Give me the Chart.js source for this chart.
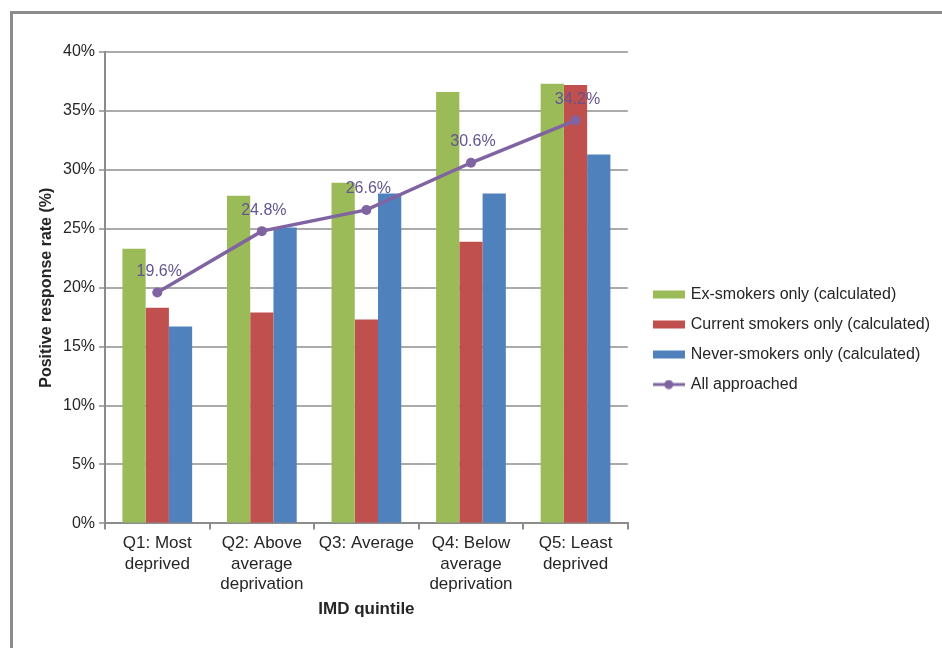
<!DOCTYPE html>
<html>
<head>
<meta charset="utf-8">
<script src="https://cdn.jsdelivr.net/npm/chart.js@4/dist/chart.umd.min.js"></script>
<style>
  html, body { margin: 0; padding: 0; background: #fff; }
  #wrap { position: relative; width: 942px; height: 648px; overflow: hidden; }
  #frame { position: absolute; left: 10px; top: 11px; width: 960px; height: 700px;
           border-left: 3px solid #8c8c8c; border-top: 3px solid #8c8c8c; pointer-events: none; }
  canvas { position: absolute; left: 0; top: 0; }
</style>
</head>
<body>
<div id="wrap">
  <canvas id="c" width="942" height="648"></canvas>
  <div id="frame"></div>
</div>
<script>
// IMD quintiles and positive response rates (%)
const quintiles = [
  ['Q1: Most', 'deprived'],
  ['Q2: Above', 'average', 'deprivation'],
  ['Q3: Average'],
  ['Q4: Below', 'average', 'deprivation'],
  ['Q5: Least', 'deprived']
];
const exSmokers      = [23.3, 27.8, 28.9, 36.6, 37.3];
const currentSmokers = [18.3, 17.9, 17.3, 23.9, 37.2];
const neverSmokers   = [16.7, 25.1, 28.0, 28.0, 31.3];
const allApproached  = [19.6, 24.8, 26.6, 30.6, 34.2];
const yTicks = [0, 5, 10, 15, 20, 25, 30, 35, 40];

const GREEN = '#9BBB59', RED = '#C0504D', BLUE = '#4F81BD', PURPLE = '#8064A2';
const FONT = "'Liberation Sans', Arial, Helvetica, sans-serif";

// legend swatches: flat bars for the columns, line with a dot for the series
function swatch(color, isLine) {
  const cv = document.createElement('canvas');
  cv.width = 32; cv.height = 10;
  const g = cv.getContext('2d');
  if (isLine) {
    g.strokeStyle = color; g.lineWidth = 3;
    g.beginPath(); g.moveTo(0, 5); g.lineTo(32, 5); g.stroke();
    g.fillStyle = color; g.beginPath(); g.arc(16, 5, 4.5, 0, Math.PI * 2); g.fill();
  } else {
    g.fillStyle = color; g.fillRect(0, 1, 32, 8);
  }
  return cv;
}
const swatches = [swatch(GREEN), swatch(RED), swatch(BLUE), swatch(PURPLE, true)];

// let the right-hand legend be as wide as its longest entry
const wideLegend = {
  id: 'wideLegend',
  beforeLayout(chart) {
    const lg = chart.legend;
    if (lg && !lg.__wide) {
      const update = lg.update;
      lg.update = function (w, h, m) { return update.call(this, Math.max(w, 320), h, m); };
      lg.__wide = true;
    }
  }
};

// value labels above the line points
const pointLabels = {
  id: 'pointLabels',
  afterDatasetsDraw(chart) {
    const meta = chart.getDatasetMeta(3);
    const ctx = chart.ctx;
    ctx.save();
    ctx.font = '16px ' + FONT;
    ctx.fillStyle = '#64548f';
    ctx.textAlign = 'center';
    ctx.textBaseline = 'middle';
    meta.data.forEach((pt, i) => {
      ctx.fillText(allApproached[i].toFixed(1) + '%', pt.x + 2, pt.y - 21);
    });
    ctx.restore();
  }
};

new Chart(document.getElementById('c'), {
  type: 'bar',
  data: {
    labels: quintiles,
    datasets: [
      { label: 'Ex-smokers only (calculated)', data: exSmokers, backgroundColor: GREEN, order: 1 },
      { label: 'Current smokers only (calculated)', data: currentSmokers, backgroundColor: RED, order: 1 },
      { label: 'Never-smokers only (calculated)', data: neverSmokers, backgroundColor: BLUE, order: 1 },
      { type: 'line', label: 'All approached', data: allApproached, borderColor: PURPLE,
        backgroundColor: PURPLE, borderWidth: 3.5, pointRadius: 5, pointBackgroundColor: PURPLE,
        pointBorderWidth: 0, tension: 0, order: 0 }
    ]
  },
  options: {
    responsive: false,
    animation: false,
    events: [],
    layout: { padding: { top: 52, right: 2, bottom: 21, left: 0 } },
    datasets: { bar: { categoryPercentage: 0.667, barPercentage: 1.0 } },
    scales: {
      x: {
        grid: { offset: true, drawOnChartArea: false, drawTicks: true, tickLength: 6, color: '#8c8c8c', lineWidth: 2 },
        border: { display: true, color: '#8c8c8c', width: 2 },
        ticks: { font: { family: FONT, size: 17 }, color: '#262626', padding: 4, maxRotation: 0, autoSkip: false },
        title: { display: true, text: 'IMD quintile', font: { family: FONT, size: 17, weight: 'bold' },
                 color: '#262626', padding: { top: 1, bottom: 7 } }
      },
      y: {
        min: 0, max: 40,
        afterFit(s) { s.width = 105; },
        afterBuildTicks(s) { s.ticks = yTicks.map(v => ({ value: v })); },
        grid: { color: '#aaaaaa', lineWidth: 2, tickLength: 6 },
        border: { display: true, color: '#8c8c8c', width: 2 },
        ticks: { font: { family: FONT, size: 16 }, color: '#262626', padding: 4, callback: v => v + '%' },
        title: { display: true, text: 'Positive response rate (%)', font: { family: FONT, size: 16, weight: 'bold' },
                 color: '#262626', padding: { top: 37, bottom: 0 } }
      },
      gap: {
        position: 'right',
        afterFit(s) { s.width = 13; },
        grid: { drawOnChartArea: false, drawTicks: false },
        border: { display: false },
        ticks: { display: false }
      }
    },
    plugins: {
      tooltip: { enabled: false },
      legend: {
        position: 'right',
        labels: {
          font: { family: FONT, size: 16 },
          color: '#262626',
          padding: 14,
          usePointStyle: true,
          pointStyleWidth: 28,
          sort: (a, b) => a.datasetIndex - b.datasetIndex,
          generateLabels(chart) {
            const items = Chart.defaults.plugins.legend.labels.generateLabels(chart);
            items.forEach(it => { it.pointStyle = swatches[it.datasetIndex]; });
            return items;
          }
        }
      }
    }
  },
  plugins: [wideLegend, pointLabels]
});
</script>
</body>
</html>
